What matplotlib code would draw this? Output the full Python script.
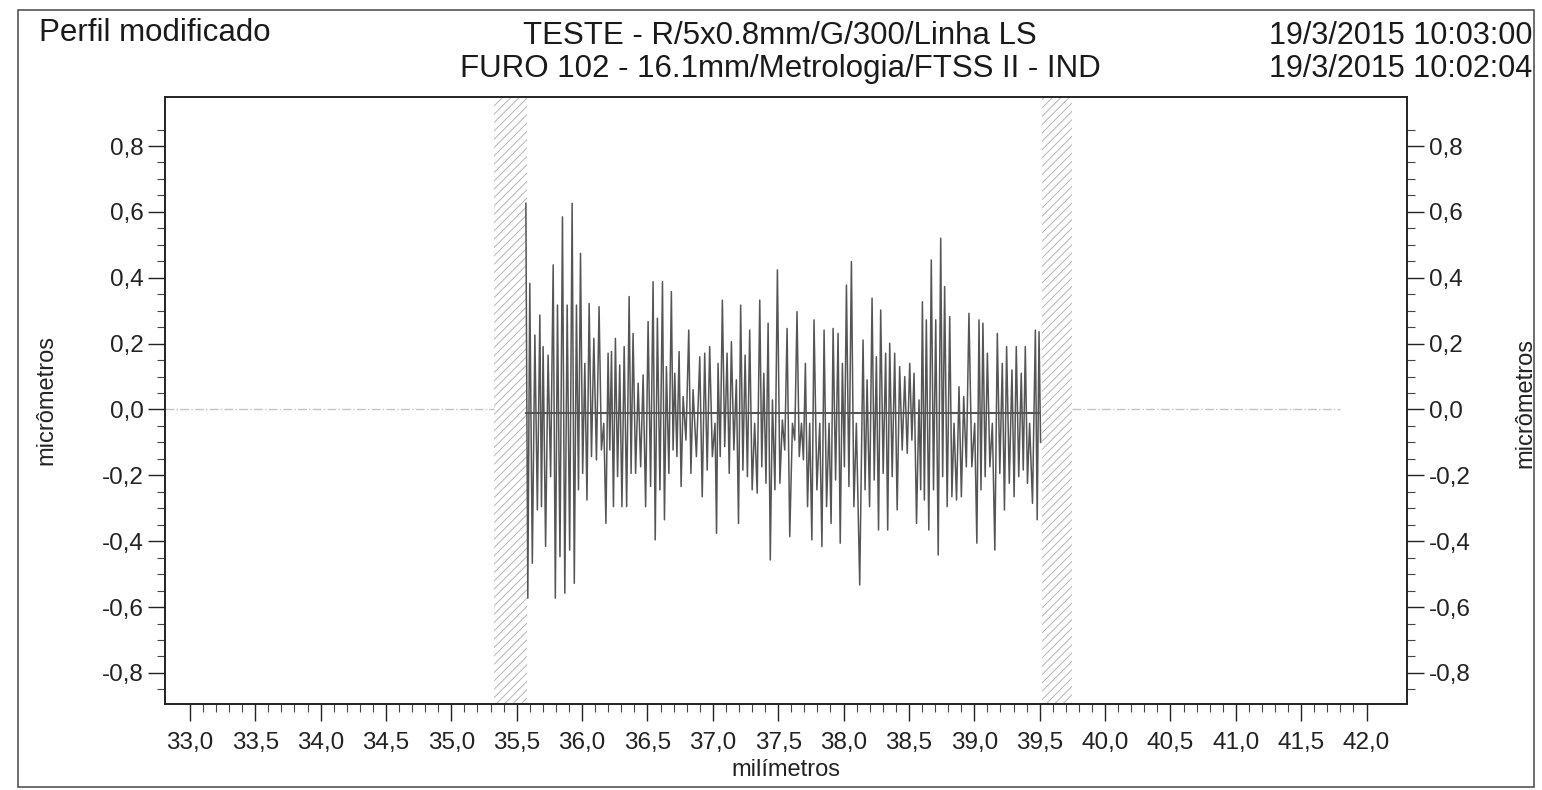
import numpy as np
import matplotlib
matplotlib.use("Agg")
import matplotlib.pyplot as plt
from matplotlib.ticker import FixedLocator, FuncFormatter
from matplotlib.patches import Rectangle

plt.rcParams['font.family'] = ['Liberation Sans', 'DejaVu Sans']
plt.rcParams['hatch.linewidth'] = 0.7

# Textos do cabeçalho
titulo_esq = "Perfil modificado"
titulo_1 = "TESTE - R/5x0.8mm/G/300/Linha LS"
titulo_2 = "FURO 102 - 16.1mm/Metrologia/FTSS II - IND"
data_1 = "19/3/2015 10:03:00"
data_2 = "19/3/2015 10:02:04"

# Posições (mm) dos picos e valores máximo / mínimo (µm)
pico_x = [
    35.570, 35.600, 35.639, 35.677, 35.702, 35.740, 35.779, 35.812, 35.850, 35.886,
    35.924, 35.957, 35.988, 36.021, 36.054, 36.090, 36.130, 36.166, 36.199, 36.225,
    36.255, 36.288, 36.322, 36.360, 36.390, 36.429, 36.467, 36.505, 36.543, 36.576,
    36.615, 36.645, 36.683, 36.709, 36.742, 36.773, 36.816, 36.849, 36.900, 36.938,
    36.976, 37.017, 37.040, 37.073, 37.109, 37.142, 37.180, 37.213, 37.247, 37.282,
    37.320, 37.359, 37.390, 37.423, 37.456, 37.494, 37.532, 37.568, 37.609, 37.644,
    37.678, 37.708, 37.741, 37.774, 37.818, 37.851, 37.889, 37.920, 37.958, 37.991,
    38.022, 38.060, 38.098, 38.149, 38.180, 38.218, 38.251, 38.284, 38.322, 38.353,
    38.391, 38.429, 38.468, 38.506, 38.539, 38.577, 38.603, 38.633, 38.671, 38.705,
    38.743, 38.773, 38.812, 38.845, 38.883, 38.919, 38.959, 39.003, 39.036, 39.066,
    39.100, 39.138, 39.176, 39.214, 39.247, 39.288, 39.321, 39.359, 39.390, 39.423,
    39.467, 39.495,
]
pico_max = [
    0.626, 0.383, 0.226, 0.287, 0.191, 0.165, 0.439, 0.317, 0.585, 0.317,
    0.626, 0.317, 0.474, 0.140, 0.322, 0.216, 0.312, -0.042, 0.171, 0.176,
    0.216, 0.135, 0.191, 0.343, 0.231, 0.080, 0.105, 0.267, 0.388, 0.277,
    0.388, 0.130, 0.358, 0.110, 0.176, 0.039, 0.241, 0.060, 0.160, 0.171,
    0.191, -0.042, 0.140, 0.332, 0.171, 0.206, 0.090, 0.317, 0.165, 0.241,
    -0.042, 0.332, 0.110, 0.262, 0.029, 0.424, -0.032, 0.246, -0.042, 0.297,
    -0.042, 0.140, -0.042, 0.272, -0.042, 0.241, -0.042, 0.246, 0.231, 0.140,
    0.378, 0.449, -0.042, 0.211, 0.090, 0.338, 0.160, 0.302, 0.171, 0.201,
    0.171, 0.130, 0.100, 0.140, 0.110, 0.029, 0.327, 0.272, 0.454, 0.272,
    0.520, 0.373, 0.282, -0.042, 0.069, 0.039, 0.292, -0.042, 0.272, 0.262,
    0.171, -0.042, 0.231, 0.140, 0.191, 0.120, 0.191, 0.110, 0.191, -0.042,
    0.241, 0.236,
]
pico_min = [
    -0.573, -0.467, -0.305, -0.295, -0.416, -0.204, -0.573, -0.447, -0.558, -0.427,
    -0.528, -0.244, -0.194, -0.275, -0.143, -0.153, -0.123, -0.346, -0.123, -0.295,
    -0.204, -0.295, -0.295, -0.194, -0.194, -0.174, -0.295, -0.234, -0.396, -0.244,
    -0.335, -0.194, -0.123, -0.143, -0.234, -0.093, -0.194, -0.143, -0.265, -0.184,
    -0.143, -0.376, -0.143, -0.113, -0.194, -0.123, -0.346, -0.184, -0.204, -0.244,
    -0.254, -0.174, -0.224, -0.457, -0.244, -0.224, -0.123, -0.386, -0.093, -0.143,
    -0.153, -0.295, -0.396, -0.244, -0.416, -0.295, -0.346, -0.214, -0.406, -0.174,
    -0.234, -0.295, -0.533, -0.244, -0.295, -0.214, -0.366, -0.194, -0.366, -0.204,
    -0.305, -0.123, -0.133, -0.093, -0.346, -0.244, -0.275, -0.366, -0.244, -0.442,
    -0.204, -0.295, -0.265, -0.275, -0.265, -0.174, -0.174, -0.406, -0.244, -0.204,
    -0.174, -0.427, -0.194, -0.305, -0.224, -0.265, -0.204, -0.184, -0.224, -0.285,
    -0.335, -0.100,
]

# Linha média, linha de referência e zonas excluídas (mm)
media = -0.01
ref_inicio, ref_fim = 32.81, 41.8
zonas_excluidas = [(35.33, 35.58), (39.52, 39.75)]

# Monta o perfil em zigue-zague: máximo no pico, mínimo a meio caminho do próximo
px = np.array(pico_x)
meio = np.append((px[:-1] + px[1:]) / 2, px[-1] + 0.012)
perfil_x = np.ravel(np.column_stack([px, meio]))
perfil_y = np.ravel(np.column_stack([pico_max, pico_min]))

fig = plt.figure(figsize=(15.42, 7.90), dpi=100)
ax = fig.add_axes([0.107, 0.109, 0.8055, 0.7683])

for a, b in zonas_excluidas:
    ax.axvspan(a, b, facecolor='none', edgecolor='#b5b5b5', hatch='////', lw=0)

ax.plot([ref_inicio, zonas_excluidas[0][0]], [0, 0], color='#c4c4c4', lw=1.0, ls='-.')
ax.plot([zonas_excluidas[1][1], ref_fim], [0, 0], color='#c4c4c4', lw=1.0, ls='-.')
ax.plot([pico_x[0], pico_x[-1]], [media, media], color='#555555', lw=1.5)
ax.plot(perfil_x, perfil_y, color='#555555', lw=1.1)

ax.set_xlim(32.81, 42.31)
ax.set_ylim(-0.894, 0.949)


def virgula(v, p):
    s = f"{v:.1f}"
    if s == "-0.0":
        s = "0.0"
    return s.replace('.', ',')


ax.xaxis.set_major_locator(FixedLocator(np.arange(33.0, 42.01, 0.5)))
ax.xaxis.set_minor_locator(FixedLocator(np.arange(33.0, 42.01, 0.1)))
ax.yaxis.set_major_locator(FixedLocator(np.arange(-0.8, 0.81, 0.2)))
ax.yaxis.set_minor_locator(FixedLocator(np.arange(-0.85, 0.86, 0.05)))
ax.xaxis.set_major_formatter(FuncFormatter(virgula))
ax.yaxis.set_major_formatter(FuncFormatter(virgula))

ax.tick_params(axis='both', which='major', direction='out', length=12, width=1,
               labelsize=17.5, colors='#222222')
ax.tick_params(axis='both', which='minor', direction='out', length=6, width=0.8,
               colors='#444444')
ax.tick_params(axis='y', which='both', left=True, right=True, labelleft=True, labelright=True)
ax.tick_params(axis='x', pad=8)

for s in ax.spines.values():
    s.set_color('#222222')
    s.set_linewidth(1.4)

ax.set_xlabel("milímetros", fontsize=17, color='#222222', labelpad=4)
ax.set_ylabel("micrômetros", fontsize=17, color='#222222', labelpad=32)
fig.text(0.989, 0.49, "micrômetros", fontsize=17, color='#222222',
         rotation=90, ha='center', va='center')

# Cabeçalho
fig.text(0.025, 0.958, titulo_esq, fontsize=22.5, color='#1a1a1a', ha='left', va='center')
fig.text(0.506, 0.955, titulo_1, fontsize=22.5, color='#1a1a1a', ha='center', va='center')
fig.text(0.506, 0.913, titulo_2, fontsize=22.5, color='#1a1a1a', ha='center', va='center')
fig.text(0.994, 0.955, data_1, fontsize=22, color='#1a1a1a', ha='right', va='center')
fig.text(0.994, 0.913, data_2, fontsize=22, color='#1a1a1a', ha='right', va='center')

# Moldura externa
fig.patches.append(Rectangle((0.0115, 0.004), 0.9835, 0.983, transform=fig.transFigure,
                             fill=False, edgecolor='#555555', lw=1.2))

fig.savefig("out.png", dpi=100, facecolor='white')
